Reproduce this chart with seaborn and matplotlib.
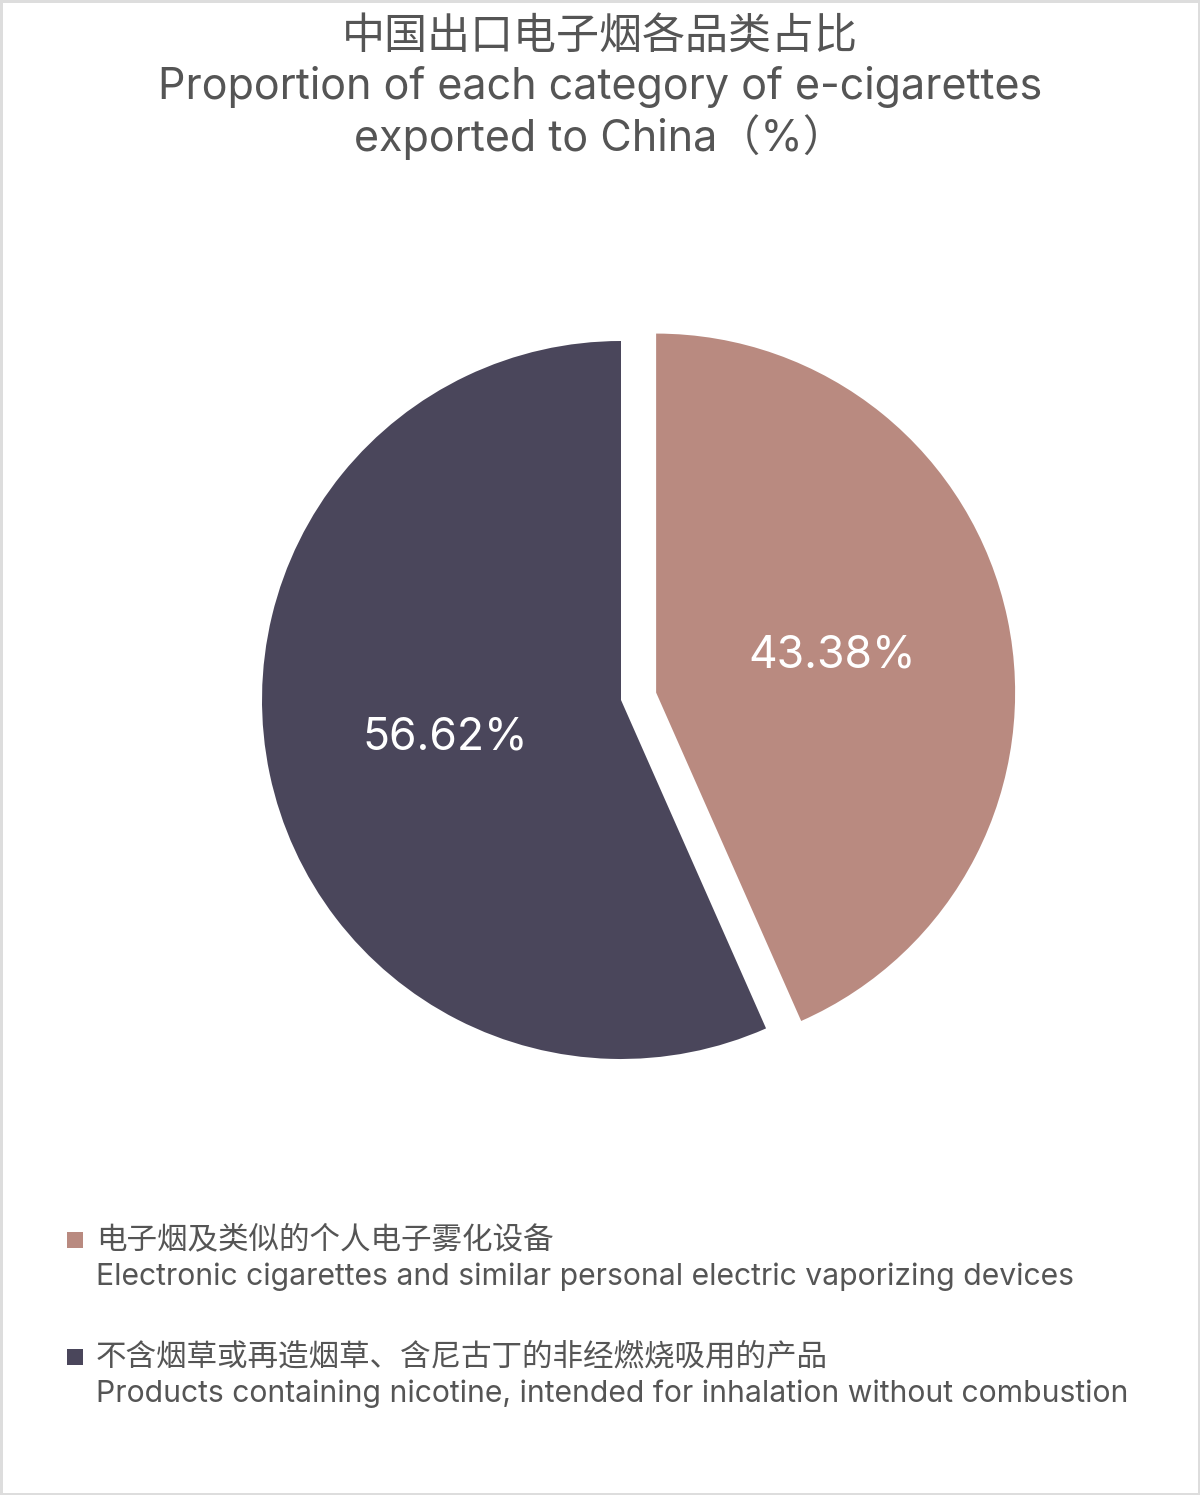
import seaborn as sns
import matplotlib.pyplot as plt
from matplotlib.patches import Rectangle

# ---------------------------------------- Data ---------------------------------------- #
title_cn = "中国出口电子烟各品类占比"
title_en = ["Proportion of each category of e-cigarettes", "exported to China（%）"]
labels_cn = ["电子烟及类似的个人电子雾化设备",
             "不含烟草或再造烟草、含尼古丁的非经燃烧吸用的产品"]
labels_en = ["Electronic cigarettes and similar personal electric vaporizing devices",
             "Products containing nicotine, intended for inhalation without combustion"]
shares = [43.38, 56.62]
colors = ["#B98A80", "#4A465B"]

text_color = "#555555"
latin = ["Inter", "Noto Sans CJK SC", "DejaVu Sans"]
W, H = 1200, 1495

sns.set_theme(style="white")
plt.rcParams['font.family'] = ['Noto Sans CJK SC', 'DejaVu Sans']

fig = plt.figure(figsize=(W / 100, H / 100), dpi=100, facecolor="white",
                 edgecolor="#dddddd", linewidth=2.5)

# pie axes: centre at (621, 700) px, radius 359 px
cx, cy, r, half = 621, 700, 359, 400
ax = fig.add_axes([(cx - half) / W, (H - cy - half) / H, 2 * half / W, 2 * half / H])
patches, _, pcts = ax.pie(shares, colors=colors, startangle=90, counterclock=False,
                          explode=[0.1, 0], autopct=lambda p: "{:.2f}%".format(p),
                          pctdistance=0.5, radius=1,
                          wedgeprops={"linewidth": 0})
plt.setp(pcts, color="white", fontsize=32, family=latin)
ax.set_xlim(-half / r, half / r)
ax.set_ylim(-half / r, half / r)
ax.set_aspect("equal")
ax.axis("off")

# title
fig.text(0.5, 1 - 37 / H, title_cn, ha="center", va="center", fontsize=31, color=text_color)
for k, line in enumerate(title_en):
    fig.text(0.5, 1 - (87 + 50 * k) / H, line, ha="center", va="center", fontsize=31,
             color=text_color, family=latin)

# legend
for i, (cn, en) in enumerate(zip(labels_cn, labels_en)):
    y0 = 1240 + i * 117
    fig.patches.append(Rectangle((67 / W, 1 - (y0 + 8) / H), 16 / W, 16 / H,
                                 transform=fig.transFigure, facecolor=colors[i],
                                 edgecolor="none"))
    fig.text(96 / W, 1 - y0 / H, cn, ha="left", va="center", fontsize=22, color=text_color)
    fig.text(96 / W, 1 - (y0 + 37) / H, en, ha="left", va="center", fontsize=21.7,
             color=text_color, family=latin)

plt.savefig("out.png", dpi=100)
